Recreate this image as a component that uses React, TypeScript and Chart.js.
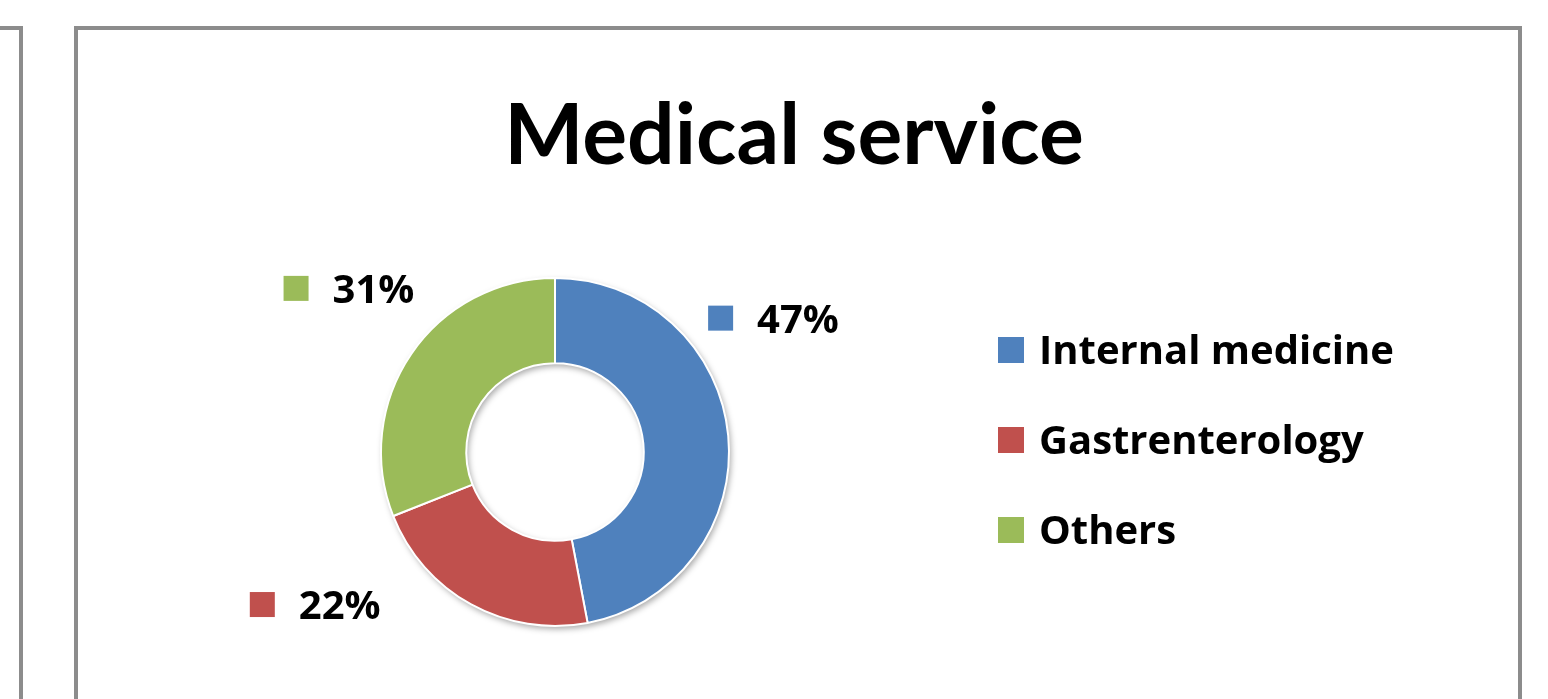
import React, { useEffect, useRef } from "react";
import { Chart, registerables } from "chart.js";

Chart.register(...registerables);

const chartTitle = "Medical service";
const categories = ["Internal medicine", "Gastrenterology", "Others"];
const shares = [47, 22, 31];
const sliceColors = ["#4F81BD", "#C0504D", "#9BBB59"];
// where each percentage label sits, relative to the doughnut centre, in outer-radius units
// [square left, text baseline]
const labelAnchors = [
  [0.88, -0.686],
  [-1.754, 0.96],
  [-1.56, -0.857],
];

const TITLE_FONT = "Lato, 'Open Sans', sans-serif";
const TEXT_FONT = "'Open Sans', Lato, sans-serif";

const decorPlugin = {
  id: "decor",
  beforeDatasetsDraw(chart: any) {
    const meta = chart.getDatasetMeta(0);
    const arc = meta.data[0];
    if (!arc) return;
    const { x, y, outerRadius, innerRadius } = arc.getProps(
      ["x", "y", "outerRadius", "innerRadius"],
      true
    );
    const ctx = chart.ctx;
    ctx.save();
    ctx.shadowColor = "rgba(0,0,0,0.35)";
    ctx.shadowBlur = 6;
    ctx.shadowOffsetX = 2;
    ctx.shadowOffsetY = 3;
    ctx.beginPath();
    ctx.arc(x, y, outerRadius, 0, Math.PI * 2, false);
    ctx.arc(x, y, innerRadius, 0, Math.PI * 2, true);
    ctx.closePath();
    ctx.fillStyle = "#ffffff";
    ctx.fill();
    ctx.restore();
  },
  afterDraw(chart: any) {
    const ctx = chart.ctx;
    const meta = chart.getDatasetMeta(0);
    const arc = meta.data[0];
    if (!arc) return;
    const { x, y, outerRadius } = arc.getProps(["x", "y", "outerRadius"], true);
    const values: number[] = chart.data.datasets[0].data;
    const colors: string[] = chart.data.datasets[0].backgroundColor;
    const labels: string[] = chart.data.labels;
    const total = values.reduce((a, b) => a + b, 0);

    ctx.save();
    // title
    ctx.fillStyle = "#000";
    ctx.textBaseline = "alphabetic";
    ctx.textAlign = "center";
    ctx.font = `bold 84px ${TITLE_FONT}`;
    ctx.fillText(chartTitle, 794, 164);

    // percentage labels
    const sq = 25;
    const cap = 27;
    ctx.textAlign = "left";
    ctx.font = `bold 40px ${TEXT_FONT}`;
    values.forEach((v, i) => {
      const [ax, ay] = labelAnchors[i];
      const sx = x + ax * outerRadius;
      const base = y + ay * outerRadius;
      ctx.fillStyle = colors[i];
      ctx.fillRect(sx, base - cap, sq, sq);
      ctx.fillStyle = "#000";
      ctx.fillText(`${Math.round((v / total) * 100)}%`, sx + sq + 24, base);
    });

    // legend
    const legX = 998;
    const legBase0 = 364;
    const legStep = 90;
    labels.forEach((lab, i) => {
      const base = legBase0 + i * legStep;
      ctx.fillStyle = colors[i];
      ctx.fillRect(legX, base - cap, sq + 1, sq + 1);
      ctx.fillStyle = "#000";
      ctx.fillText(lab, legX + 41, base);
    });
    ctx.restore();
  },
};

export default function App() {
  const ref = useRef<HTMLCanvasElement | null>(null);

  useEffect(() => {
    document.body.style.margin = "0";
    if (!ref.current) return;
    const chart = new Chart(ref.current, {
      type: "doughnut",
      data: {
        labels: categories,
        datasets: [
          {
            data: shares,
            backgroundColor: sliceColors,
            borderColor: "#ffffff",
            borderWidth: 2,
            hoverOffset: 0,
          },
        ],
      },
      options: {
        responsive: false,
        animation: false,
        cutout: "51%",
        layout: { padding: { left: 380, right: 818, top: 277, bottom: 72 } },
        plugins: {
          legend: { display: false },
          title: { display: false },
          tooltip: { enabled: false },
        },
      },
      plugins: [decorPlugin],
    });
    return () => chart.destroy();
  }, []);

  return (
    <div
      style={{
        position: "relative",
        width: 1548,
        height: 699,
        overflow: "hidden",
        background: "#fff",
      }}
    >
      <div
        style={{
          position: "absolute",
          left: -200,
          top: 26,
          width: 223,
          height: 800,
          boxSizing: "border-box",
          border: "4px solid #8c8c8c",
        }}
      />
      <div
        style={{
          position: "absolute",
          left: 74,
          top: 26,
          width: 1448,
          height: 800,
          boxSizing: "border-box",
          border: "4px solid #8c8c8c",
        }}
      />
      <canvas
        ref={ref}
        width={1548}
        height={699}
        style={{ position: "absolute", left: 0, top: 0, width: 1548, height: 699 }}
      />
    </div>
  );
}
